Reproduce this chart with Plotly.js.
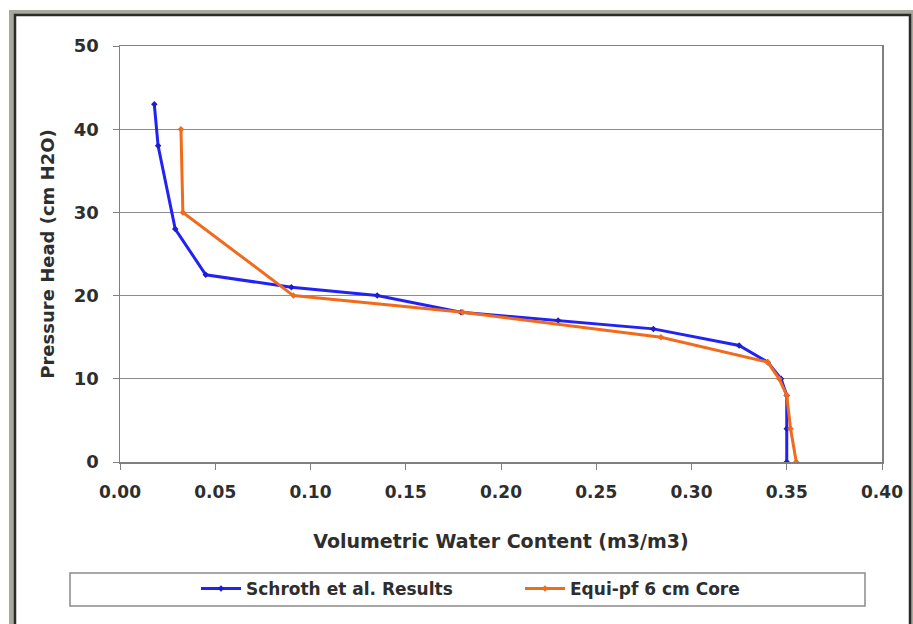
<!DOCTYPE html>
<html>
<head>
<meta charset="utf-8">
<script src="https://cdn.plot.ly/plotly-3.0.1.min.js"></script>
<style>html,body{margin:0;padding:0;background:#fff;}#chart{width:913px;height:624px;}</style>
</head>
<body>
<div id="chart"></div>
<script>
// Data
var schrothTheta = [0.018, 0.020, 0.029, 0.045, 0.090, 0.135, 0.179, 0.230, 0.280, 0.325, 0.340, 0.347, 0.350, 0.350, 0.350];
var schrothHead  = [43, 38, 28, 22.5, 21, 20, 18, 17, 16, 14, 12, 10, 8, 4, 0];
var equiTheta = [0.032, 0.033, 0.091, 0.180, 0.284, 0.340, 0.346, 0.350, 0.352, 0.355];
var equiHead  = [40, 30, 20, 18, 15, 12, 10, 8, 4, 0];
var seriesNames = ["Schroth et al. Results", "Equi-pf 6 cm Core"];
var xTicks = [0, 0.05, 0.10, 0.15, 0.20, 0.25, 0.30, 0.35, 0.40];
var xTickText = ["0.00", "0.05", "0.10", "0.15", "0.20", "0.25", "0.30", "0.35", "0.40"];
var yTicks = [0, 10, 20, 30, 40, 50];

var W = 913, H = 624, L = 120, R = 31, T = 46, B = 162;
var pw = W - L - R, ph = H - T - B;
function px(x){ return (x - L) / pw; }
function py(y){ return (H - B - y) / ph; }

var fam = "DejaVu Sans, Verdana, sans-serif";
var txt = "#2e2e2e";

var traces = [
  {x: schrothTheta, y: schrothHead, name: seriesNames[0], type: "scatter", mode: "lines+markers",
   line: {color: "#2222f2", width: 3}, marker: {color: "#1c1cd0", size: 5, symbol: "diamond"}},
  {x: equiTheta, y: equiHead, name: seriesNames[1], type: "scatter", mode: "lines+markers",
   line: {color: "#f26a1b", width: 3}, marker: {color: "#f26a1b", size: 5, symbol: "diamond"}}
];

var shapes = [
  {type: "rect", xref: "paper", yref: "paper", x0: px(9), x1: px(940), y0: py(10), y1: py(660),
   fillcolor: "#a9a99b", line: {width: 0}, layer: "below"},
  {type: "rect", xref: "paper", yref: "paper", x0: px(15), x1: px(910), y0: py(15), y1: py(660),
   fillcolor: "#ffffff", line: {color: "#2a2a2a", width: 2.5}, layer: "below"},
  {type: "rect", xref: "paper", yref: "paper", x0: px(70), x1: px(865), y0: py(573), y1: py(606),
   fillcolor: "rgba(0,0,0,0)", line: {color: "#8a8a8a", width: 1.5}, layer: "below"}
];

var layout = {
  width: W, height: H,
  margin: {l: L, r: R, t: T, b: B},
  paper_bgcolor: "#ffffff",
  plot_bgcolor: "rgba(0,0,0,0)",
  showlegend: true,
  font: {family: fam, size: 14, color: txt, weight: "bold"},
  xaxis: {
    range: [0, 0.40], tickvals: xTicks, ticktext: xTickText,
    showgrid: false, zeroline: false, showline: true, linecolor: "#808080", linewidth: 1.5, mirror: true,
    ticks: "outside", ticklen: 6, tickcolor: "#808080", ticklabelstandoff: 8,
    tickfont: {family: fam, size: 17, color: txt, weight: "bold"},
    title: {text: "Volumetric Water Content (m3/m3)", standoff: 34,
            font: {family: fam, size: 19, color: txt, weight: "bold"}}
  },
  yaxis: {
    range: [0, 50], tickvals: yTicks,
    showgrid: true, gridcolor: "#8c8c8c", gridwidth: 1.2, zeroline: false,
    showline: true, linecolor: "#808080", linewidth: 1.5, mirror: true,
    ticks: "outside", ticklen: 6, tickcolor: "#808080", ticklabelstandoff: 10,
    tickfont: {family: fam, size: 18, color: txt, weight: "bold"},
    title: {text: "Pressure Head (cm H2O)", standoff: 14,
            font: {family: fam, size: 18, color: txt, weight: "bold"}}
  },
  legend: {
    orientation: "h", x: px(196), xanchor: "left", y: py(589), yanchor: "middle",
    bgcolor: "rgba(0,0,0,0)", borderwidth: 0,
    font: {family: fam, size: 17, color: txt, weight: "bold"},
    entrywidth: 269, entrywidthmode: "pixels", itemwidth: 40
  },
  shapes: shapes
};

Plotly.newPlot("chart", traces, layout, {displayModeBar: false, staticPlot: true});
</script>
</body>
</html>
